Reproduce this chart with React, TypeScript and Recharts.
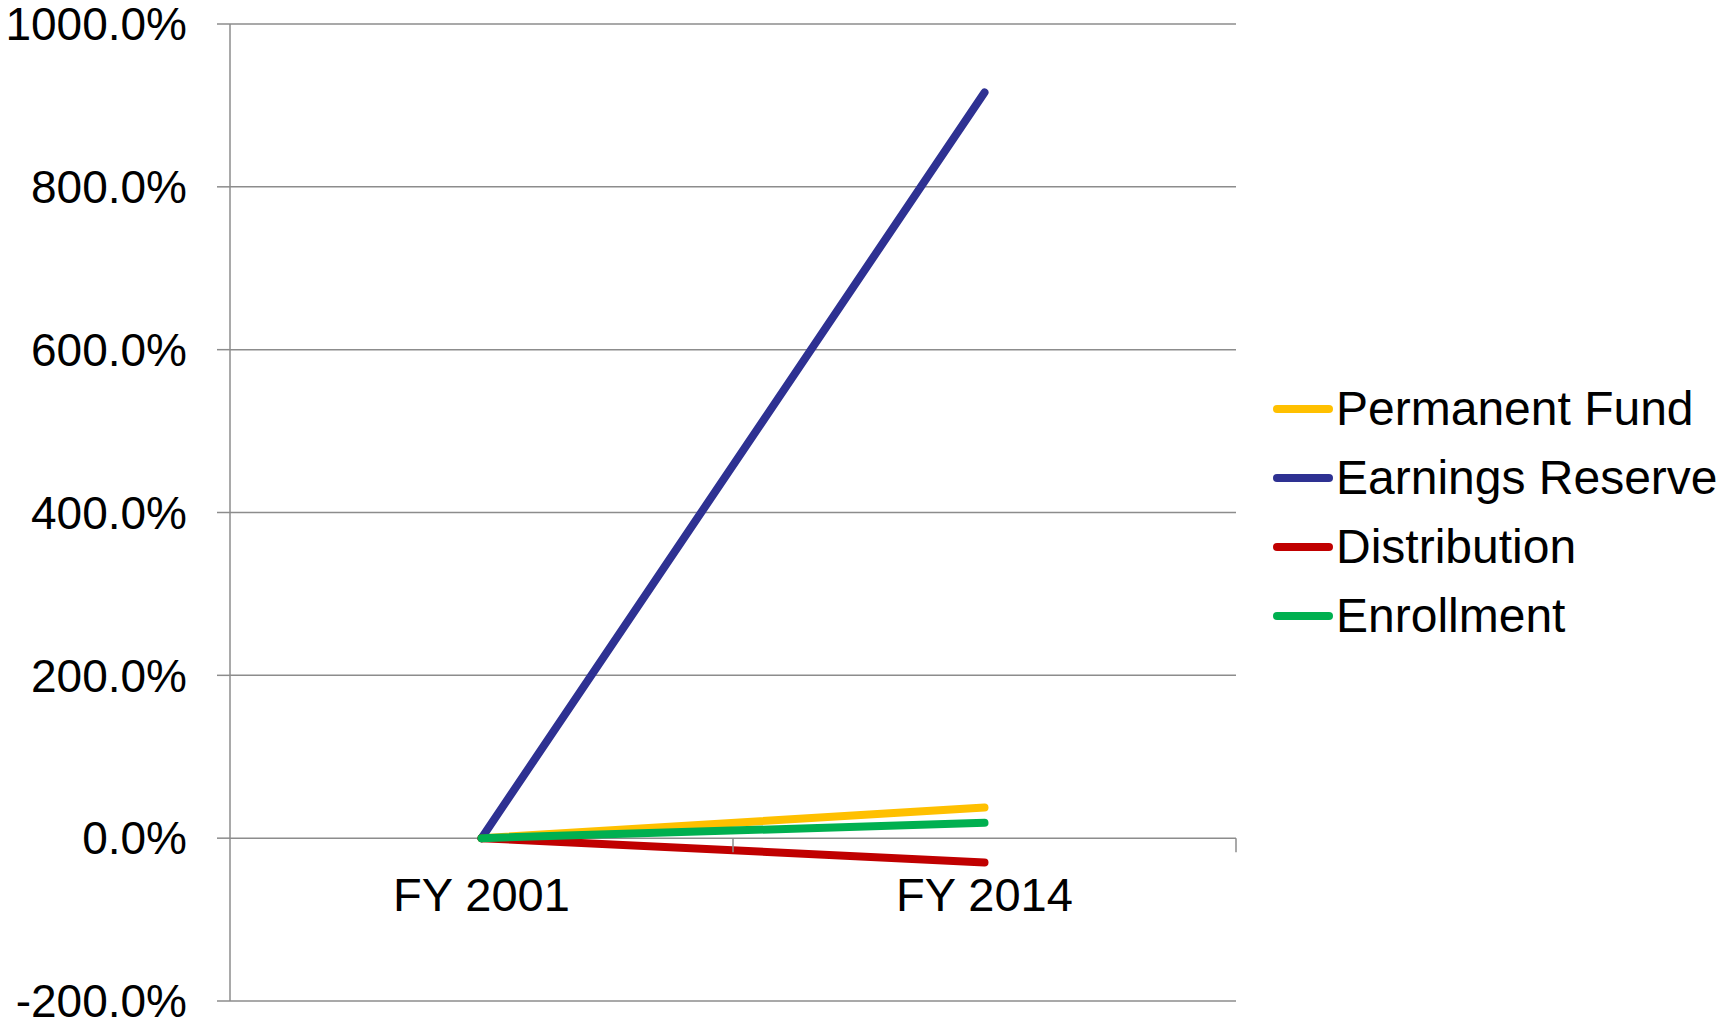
import React from "react";
import {
  CartesianGrid,
  Legend,
  Line,
  LineChart,
  XAxis,
  YAxis,
} from "recharts";

const categories = ["FY 2001", "FY 2014"];
const permanentFund = [0, 37.7];
const earningsReserve = [0, 916];
const distribution = [0, -29.9];
const enrollment = [0, 18.8];
const yTicks = [-200, 0, 200, 400, 600, 800, 1000];

const series = [
  { key: "Permanent Fund", values: permanentFund, color: "#FFC000" },
  { key: "Earnings Reserve", values: earningsReserve, color: "#2E3192" },
  { key: "Distribution", values: distribution, color: "#C00000" },
  { key: "Enrollment", values: enrollment, color: "#00B050" },
];
const seriesOrder = series.map((s) => s.key);

const data = categories.map((name, i) => {
  const row: Record<string, string | number> = { name };
  series.forEach((s) => {
    row[s.key] = s.values[i];
  });
  return row;
});

const W = 1717;
const H = 1024;
const TOP = 24;
const LEFT = 230;
const RIGHT = 481;
const X_AXIS_H = 23;
const PLOT_H = H - TOP - X_AXIS_H;
const PLOT_W = W - LEFT - RIGHT;
const Y_MIN = -200;
const Y_MAX = 1000;
const ZERO_Y = TOP + ((Y_MAX - 0) / (Y_MAX - Y_MIN)) * PLOT_H;
const HALF_BAND = PLOT_W / categories.length / 2;

const FONT = '"Liberation Sans", Arial, sans-serif';
const GRID = "#8C8C8C";

function CategoryTick(props: any) {
  const { x, payload } = props;
  return (
    <g>
      <line
        x1={x + HALF_BAND}
        x2={x + HALF_BAND}
        y1={ZERO_Y}
        y2={ZERO_Y + 14}
        stroke={GRID}
        strokeWidth={1.5}
      />
      <text
        x={x}
        y={ZERO_Y + 73}
        textAnchor="middle"
        fontSize={47}
        fontFamily={FONT}
        fill="#000"
      >
        {payload.value}
      </text>
    </g>
  );
}

function renderLegend(props: any) {
  const payload = [...(props.payload || [])].sort(
    (a: any, b: any) =>
      seriesOrder.indexOf(a.value) - seriesOrder.indexOf(b.value)
  );
  return (
    <div style={{ fontFamily: FONT, fontSize: 48, color: "#000" }}>
      {payload.map((item: any) => (
        <div
          key={item.value}
          style={{ display: "flex", alignItems: "center", height: 69 }}
        >
          <svg
            width={60}
            height={10}
            style={{ display: "block", flexShrink: 0 }}
          >
            <line
              x1={4}
              x2={56}
              y1={5}
              y2={5}
              stroke={item.color}
              strokeWidth={8}
              strokeLinecap="round"
            />
          </svg>
          <span
            style={{
              marginLeft: 3,
              whiteSpace: "nowrap",
              lineHeight: 1,
              flexShrink: 0,
            }}
          >
            {item.value}
          </span>
        </div>
      ))}
    </div>
  );
}

export default function App() {
  return (
    <div
      style={{
        position: "absolute",
        left: 0,
        top: 0,
        width: W,
        height: H,
        background: "#fff",
        overflow: "hidden",
      }}
    >
      <LineChart
        width={W}
        height={H}
        data={data}
        margin={{ top: TOP, right: RIGHT, bottom: 0, left: 0 }}
      >
        <CartesianGrid vertical={false} stroke={GRID} strokeWidth={1.5} />
        <XAxis
          dataKey="name"
          scale="band"
          height={X_AXIS_H}
          axisLine={false}
          tickLine={false}
          tick={<CategoryTick />}
          interval={0}
        />
        <YAxis
          width={LEFT}
          domain={[Y_MIN, Y_MAX]}
          ticks={yTicks}
          interval={0}
          tickFormatter={(v: number) => `${v.toFixed(1)}%`}
          axisLine={{ stroke: GRID, strokeWidth: 1.5 }}
          tickLine={{ stroke: GRID, strokeWidth: 1.5 }}
          tickSize={13}
          tickMargin={30}
          tick={{ fontSize: 46, fontFamily: FONT, fill: "#000" }}
        />
        <Legend
          layout="horizontal"
          verticalAlign="middle"
          align="center"
          content={renderLegend}
          wrapperStyle={{ left: 1273, top: 374, width: 444, height: 280 }}
        />
        {series.map((s) => (
          <Line
            key={s.key}
            dataKey={s.key}
            stroke={s.color}
            strokeWidth={8}
            strokeLinecap="round"
            dot={false}
            activeDot={false}
            isAnimationActive={false}
          />
        ))}
      </LineChart>
    </div>
  );
}
